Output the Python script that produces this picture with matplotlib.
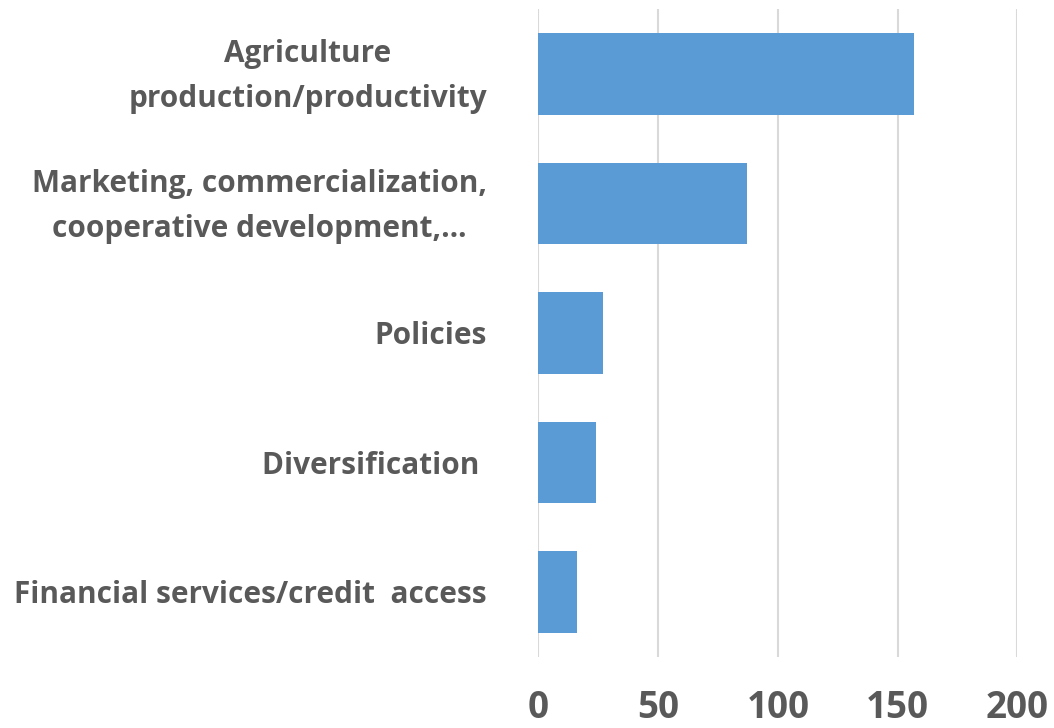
import matplotlib
matplotlib.use("Agg")
import matplotlib.pyplot as plt
from matplotlib.transforms import ScaledTranslation

categories = [
    "Agriculture\nproduction/productivity",
    "Marketing, commercialization,\ncooperative development,…",
    "Policies",
    "Diversification ",
    "Financial services/credit  access",
]
values = [157, 87, 27, 24, 16]
x_ticks = [0, 50, 100, 150, 200]

text_color = "#595959"
bar_color = "#5b9bd5"
grid_color = "#d9d9d9"
font = "Open Sans"

fig = plt.figure(figsize=(10.54, 7.28), dpi=100)
ax = fig.add_axes([538.3 / 1054, 1 - 656.7 / 728, (1017.3 - 538.3) / 1054, (656.7 - 9.3) / 728])

ypos = list(range(len(categories)))
ax.barh(ypos, values, height=0.63, color=bar_color, zorder=3)

ax.set_xlim(0, 200)
ax.set_ylim(len(categories) - 0.5, -0.5)
ax.set_xticks(x_ticks)
ax.set_xticklabels([str(t) for t in x_ticks], fontsize=26.5, fontweight="bold",
                   color=text_color, family=font)
ax.set_yticks(ypos)
ax.set_yticklabels(categories, fontsize=21.4, fontweight="bold",
                   color=text_color, family=font, multialignment="center",
                   linespacing=1.65)
ax.tick_params(axis="x", length=0, pad=23)
ax.tick_params(axis="y", length=0, pad=37)

# two-line labels sit a little high so their block is centred on the bar
for lab in ax.get_yticklabels():
    if "\n" in lab.get_text():
        lab.set_transform(lab.get_transform() + ScaledTranslation(0, 6 / 72, fig.dpi_scale_trans))

ax.grid(axis="x", color=grid_color, linewidth=1.5, zorder=0)
for s in ax.spines.values():
    s.set_visible(False)

fig.savefig("out.png", dpi=100, facecolor="white")
